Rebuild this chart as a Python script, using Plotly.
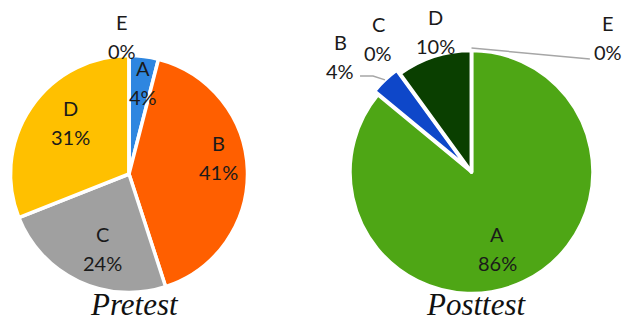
import math
import plotly.graph_objects as go

W, H = 623, 322

# answer options and the share of students choosing each (%)
options = ["A", "B", "C", "D", "E"]
pretest = [4, 41, 24, 31, 0]
posttest = [86, 4, 0, 10, 0]
titles = ["Pretest", "Posttest"]

pre_colors = ["#2E86E0", "#FF5F00", "#A0A0A0", "#FFC000", "#70AD47"]
post_colors = ["#4EA615", "#0E47C9", "#A0A0A0", "#0A3F00", "#FFC000"]

# pie geometry in pixels: centre x, centre y, radius
pre_geom = (129, 174, 118.5)
post_geom = (471.5, 172, 121.5)
pre_pull = [0, 0, 0, 0, 0]
post_pull = [0, 0.04, 0, 0, 0]

# label placement per slice: (radius factor, angular shift in degrees)
pre_label_pos = [(0.785, 1.5), (0.765, -9), (0.67, -6), (0.663, 7.2), (1.158, -2.9)]
post_label_pos = [(0.66, 6.6), (1.438, -5.6), (1.338, 0.9), (1.191, 3.4), (1.574, 45.5)]

# leader lines: slice index, rim factor, bends relative to the label centre (px)
post_leaders = [(1, 1.04, [(33, 19), (20, 19)]), (4, 1.02, [(-18, 21)])]

LABEL_FONT = dict(family="Lato, Carlito, sans-serif", size=20, color="#1a1a1a")
TITLE_FONT = dict(family="Liberation Serif, Times New Roman, serif", size=31, color="#111111")


def paper(x, y):
    return x / W, 1 - y / H


def domain(geom, pull):
    cx, cy, r = geom
    half = r * (1 + max(pull))
    return dict(x=[(cx - half) / W, (cx + half) / W],
                y=[1 - (cy + half) / H, 1 - (cy - half) / H])


def mid_angles(values):
    total = sum(values)
    cum, out = 0, []
    for v in values:
        out.append(360 * (cum + v / 2) / total)
        cum += v
    return out


def polar(geom, factor, angle):
    cx, cy, r = geom
    a = math.radians(angle)
    return cx + factor * r * math.sin(a), cy - factor * r * math.cos(a)


fig = go.Figure()
annotations = []
shapes = []

for values, colors, geom, pull, label_pos, title in [
    (pretest, pre_colors, pre_geom, pre_pull, pre_label_pos, titles[0]),
    (posttest, post_colors, post_geom, post_pull, post_label_pos, titles[1]),
]:
    fig.add_trace(go.Pie(
        labels=options,
        values=values,
        sort=False,
        direction="clockwise",
        rotation=0,
        pull=pull,
        marker=dict(colors=colors, line=dict(color="white", width=3.5)),
        textinfo="none",
        hoverinfo="label+percent",
        domain=domain(geom, pull),
        showlegend=False,
    ))
    mids = mid_angles(values)
    for opt, v, mid, (rf, shift) in zip(options, values, mids, label_pos):
        lx, ly = polar(geom, rf, mid + shift)
        for txt, dy in [(opt, -14.5), (f"{v}%", 14.5)]:
            x, y = paper(lx, ly + dy)
            annotations.append(dict(
                x=x, y=y, xref="paper", yref="paper", text=txt,
                showarrow=False, xanchor="center", yanchor="middle",
                font=LABEL_FONT,
            ))
    tx, ty = paper(geom[0] + 5, 304)
    annotations.append(dict(
        x=tx, y=ty, xref="paper", yref="paper", text=f"<i>{title}</i>",
        showarrow=False, xanchor="center", yanchor="middle", font=TITLE_FONT,
    ))

# leader lines for the small posttest slices
post_mids = mid_angles(posttest)
for idx, rim, bends in post_leaders:
    sx, sy = polar(post_geom, rim, post_mids[idx])
    rf, shift = post_label_pos[idx]
    lx, ly = polar(post_geom, rf, post_mids[idx] + shift)
    pts = [(sx, sy)] + [(lx + bx, ly + by) for bx, by in bends]
    path = "M " + " L ".join(f"{paper(px_, py_)[0]:.5f},{paper(px_, py_)[1]:.5f}" for px_, py_ in pts)
    shapes.append(dict(type="path", path=path, xref="paper", yref="paper",
                       line=dict(color="#A6A6A6", width=1.5)))

fig.update_layout(
    width=W, height=H,
    margin=dict(l=0, r=0, t=0, b=0),
    paper_bgcolor="white", plot_bgcolor="white",
    annotations=annotations,
    shapes=shapes,
)

fig.write_html("out.html")
